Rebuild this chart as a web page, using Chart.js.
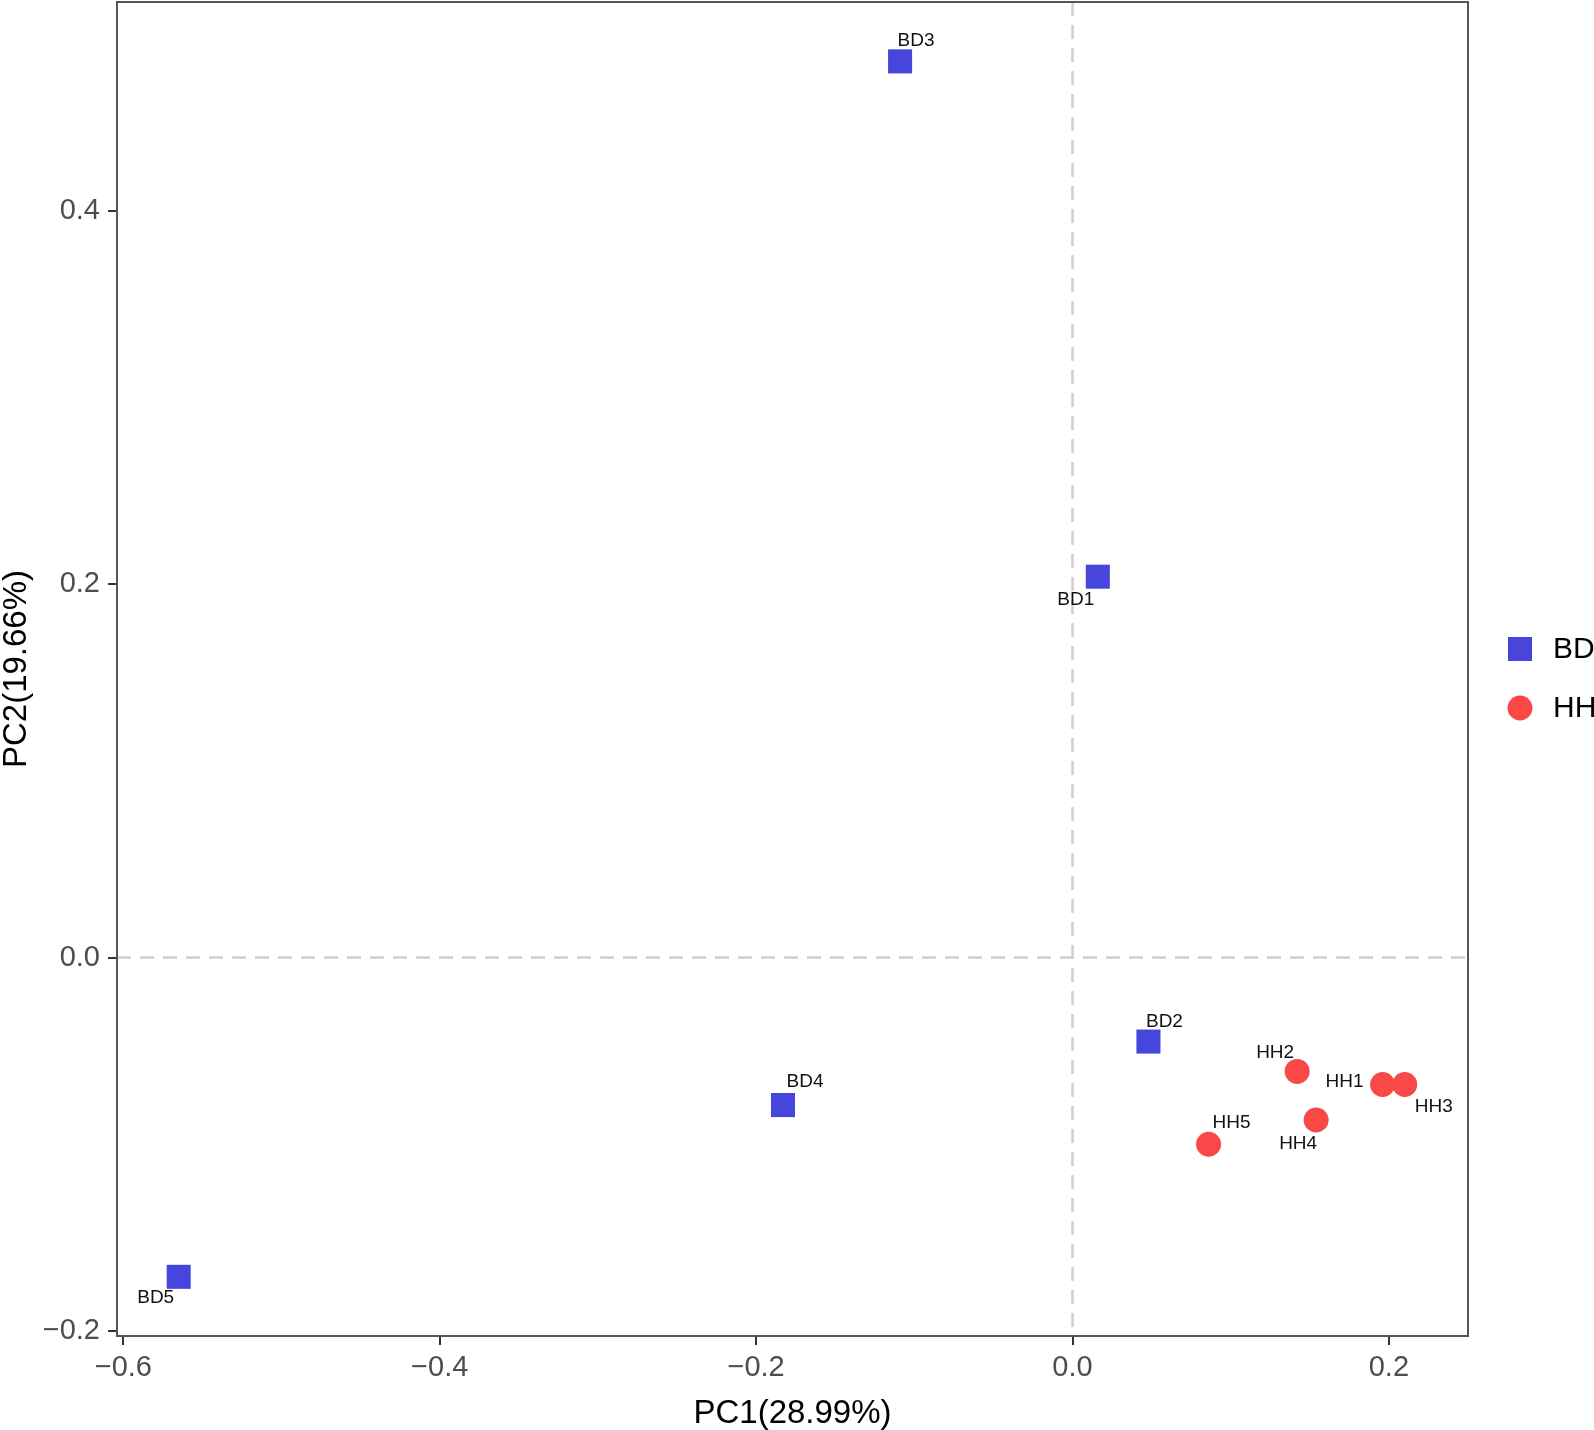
<!DOCTYPE html>
<html>
<head>
<meta charset="utf-8">
<script src="https://cdn.jsdelivr.net/npm/chart.js@4/dist/chart.umd.min.js"></script>
<style>
  body { margin: 0; background: #fff; }
  #wrap { width: 1594px; height: 1430px; }
</style>
</head>
<body>
<div id="wrap"><canvas id="pca" width="1594" height="1430"></canvas></div>
<script>
// PCA scores
const bdNames = ['BD1', 'BD2', 'BD3', 'BD4', 'BD5'];
const bdPC1 = [0.016, 0.048, -0.109, -0.183, -0.565];
const bdPC2 = [0.204, -0.045, 0.480, -0.079, -0.171];

const hhNames = ['HH1', 'HH2', 'HH3', 'HH4', 'HH5'];
const hhPC1 = [0.196, 0.142, 0.210, 0.154, 0.086];
const hhPC2 = [-0.068, -0.061, -0.068, -0.087, -0.100];

const xTicks = [-0.6, -0.4, -0.2, 0.0, 0.2];
const yTicks = [-0.2, 0.0, 0.2, 0.4];

// label nudges (pixels) so text sits like the repelled labels in the original
const bdNudge = [[-22, 23], [16, -20], [16, -21], [22, -23], [-23, 21]];
const hhNudge = [[-38, -3], [-22, -19], [29, 22], [-18, 24], [23, -21]];

const BLUE = '#4646dc';
const RED = '#f94848';
const FONT = '"Liberation Sans", Arial, Helvetica, sans-serif';

function toPoints(xs, ys) {
  return xs.map((x, i) => ({ x: x, y: ys[i] }));
}

function fmt(v) {
  return v.toFixed(1).replace('-', '\u2212');
}

const decor = {
  id: 'decor',
  beforeDatasetsDraw(chart) {
    const ctx = chart.ctx;
    const a = chart.chartArea;
    const x0 = chart.scales.x.getPixelForValue(0);
    const y0 = chart.scales.y.getPixelForValue(0);
    ctx.save();
    ctx.beginPath();
    ctx.rect(a.left, a.top, a.right - a.left, a.bottom - a.top);
    ctx.clip();
    ctx.strokeStyle = '#cfcfcf';
    ctx.lineWidth = 2.5;
    ctx.setLineDash([14, 9]);
    ctx.beginPath();
    ctx.moveTo(x0, a.top);
    ctx.lineTo(x0, a.bottom);
    ctx.moveTo(a.left, y0);
    ctx.lineTo(a.right, y0);
    ctx.stroke();
    ctx.restore();
  },
  afterDatasetsDraw(chart) {
    const ctx = chart.ctx;
    const a = chart.chartArea;
    ctx.save();
    // panel border
    ctx.strokeStyle = '#555';
    ctx.lineWidth = 2;
    ctx.strokeRect(a.left, a.top, a.right - a.left, a.bottom - a.top);

    // sample labels
    ctx.fillStyle = '#111';
    ctx.font = '19px ' + FONT;
    ctx.textAlign = 'center';
    ctx.textBaseline = 'middle';
    const groups = [[bdNames, bdNudge], [hhNames, hhNudge]];
    groups.forEach((g, di) => {
      const meta = chart.getDatasetMeta(di);
      meta.data.forEach((pt, j) => {
        ctx.fillText(g[0][j], pt.x + g[1][j][0], pt.y + g[1][j][1]);
      });
    });

    // legend
    const lx = 1520;
    ctx.fillStyle = BLUE;
    ctx.fillRect(lx - 12, 649 - 12, 24, 24);
    ctx.fillStyle = RED;
    ctx.beginPath();
    ctx.arc(lx, 708, 12.5, 0, Math.PI * 2);
    ctx.fill();
    ctx.fillStyle = '#000';
    ctx.font = '30px ' + FONT;
    ctx.textAlign = 'left';
    ctx.fillText('BD', 1553, 650);
    ctx.fillText('HH', 1553, 709);
    ctx.restore();
  }
};

new Chart(document.getElementById('pca'), {
  type: 'scatter',
  data: {
    datasets: [
      {
        label: 'BD',
        data: toPoints(bdPC1, bdPC2),
        pointStyle: 'rect',
        pointRadius: 17,
        pointHoverRadius: 17,
        backgroundColor: BLUE,
        borderColor: BLUE,
        borderWidth: 0
      },
      {
        label: 'HH',
        data: toPoints(hhPC1, hhPC2),
        pointStyle: 'circle',
        pointRadius: 12.5,
        pointHoverRadius: 12.5,
        backgroundColor: RED,
        borderColor: RED,
        borderWidth: 0
      }
    ]
  },
  options: {
    responsive: false,
    animation: false,
    layout: { autoPadding: false, padding: { top: 2, right: 126, left: 0, bottom: 0 } },
    plugins: {
      legend: { display: false },
      tooltip: { enabled: false }
    },
    scales: {
      x: {
        type: 'linear',
        min: -0.604,
        max: 0.25,
        afterBuildTicks: s => { s.ticks = xTicks.map(v => ({ value: v })); },
        afterFit: s => { s.height = 94; s.paddingLeft = 0; s.paddingRight = 0; },
        ticks: {
          callback: v => fmt(v),
          font: { size: 29, family: FONT },
          color: '#4d4d4d',
          padding: 6,
          maxRotation: 0
        },
        grid: { drawOnChartArea: false, drawTicks: true, tickLength: 9, tickColor: '#333', lineWidth: 2 },
        border: { display: true, color: '#555', width: 2 },
        title: {
          display: true,
          text: 'PC1(28.99%)',
          color: '#000',
          font: { size: 33, family: FONT, lineHeight: 1 },
          padding: 0
        }
      },
      y: {
        type: 'linear',
        min: -0.2027,
        max: 0.5118,
        afterBuildTicks: s => { s.ticks = yTicks.map(v => ({ value: v })); },
        afterFit: s => { s.width = 117; s.paddingTop = 0; s.paddingBottom = 0; },
        ticks: {
          callback: v => fmt(v),
          font: { size: 29, family: FONT },
          color: '#4d4d4d',
          padding: 8
        },
        grid: { drawOnChartArea: false, drawTicks: true, tickLength: 9, tickColor: '#333', lineWidth: 2 },
        border: { display: true, color: '#555', width: 2 },
        title: {
          display: true,
          text: 'PC2(19.66%)',
          color: '#000',
          font: { size: 33, family: FONT, lineHeight: 1 },
          padding: 0
        }
      }
    }
  },
  plugins: [decor]
});
</script>
</body>
</html>
